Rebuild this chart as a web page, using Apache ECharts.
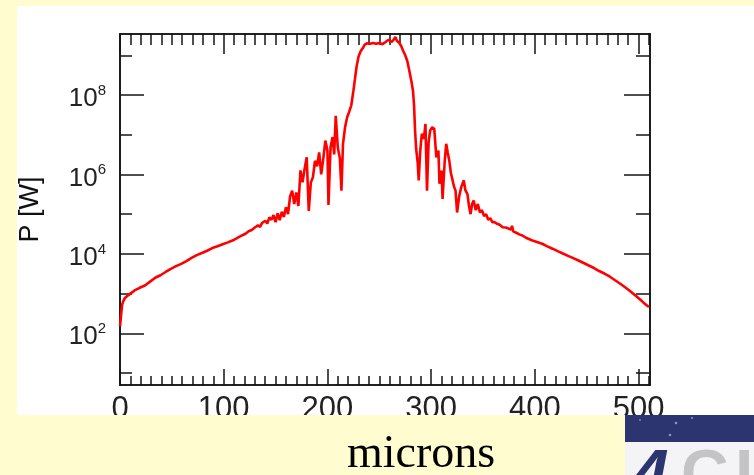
<!DOCTYPE html>
<html>
<head>
<meta charset="utf-8">
<title>P [W] vs microns</title>
<script src="https://cdn.jsdelivr.net/npm/echarts@6/dist/echarts.min.js"></script>
<style>
  html, body { margin: 0; padding: 0; background: #FFFDD0; }
  #chart { width: 754px; height: 475px; }
</style>
</head>
<body>
<div id="chart"></div>
<script>
// position (microns)
const microns = [
  0, 1, 2, 3, 4.5, 7, 10, 14, 19, 24, 29, 34, 39, 44, 49, 54, 59, 64, 69, 74,
  79, 84, 89, 94, 99, 104, 109, 114, 118, 121, 124, 127, 130, 133, 135, 137, 140, 142, 144, 146,
  148, 150, 152, 154, 156, 158, 160, 162, 164, 166, 168, 170, 172, 174, 176, 178, 180, 182, 184, 186,
  188, 190, 192, 194, 196, 198, 200, 201, 203, 205, 206.5, 208, 210, 212, 213.5, 215, 217, 219, 221, 223,
  225, 226.5, 228, 230, 232, 234, 236, 238, 241, 244, 247, 250, 253, 256, 259, 262, 264, 265.5, 267, 269,
  271, 273, 275, 277, 279, 281, 282.5, 283.5, 284.5, 285.5, 287, 288, 289.5, 291, 293, 294.5, 296, 297.5, 299, 301,
  303, 305, 307, 308, 310, 311, 313, 314.5, 316, 317.5, 319, 320.5, 322, 323.5, 325, 327, 329, 331.5, 333, 335,
  336.5, 338, 339.5, 341, 343, 345, 347, 349, 351, 353, 355, 357, 359, 361, 363, 366, 369, 372, 375, 377,
  378, 379, 382, 385, 388, 392, 397, 402, 407, 412, 417, 422, 427, 432, 437, 442, 447, 452, 457, 462,
  467, 472, 477, 482, 487, 492, 497, 502, 506, 510
];
// power (W)
const power = [
  1.5e2, 2.8e2, 5.2e2, 6.3e2, 7.6e2, 8.7e2, 1.0e3, 1.2e3, 1.4e3, 1.6e3, 2.0e3, 2.5e3, 2.9e3, 3.5e3, 4.2e3, 4.9e3, 5.6e3, 6.6e3, 7.9e3, 9.3e3,
  1.05e4, 1.2e4, 1.4e4, 1.55e4, 1.75e4, 1.95e4, 2.2e4, 2.6e4, 2.95e4, 3.2e4, 3.7e4, 4.0e4, 4.6e4, 5.2e4, 4.8e4, 6.0e4, 6.8e4, 5.8e4, 8.3e4, 7.2e4,
  9.5e4, 6.3e4, 1.05e5, 7.1e4, 1.15e5, 8.5e4, 1.5e5, 1.0e5, 2.8e5, 3.9e5, 1.8e5, 3.5e5, 1.6e5, 1.26e6, 6.3e5, 1.4e6, 2.7e6, 1.2e5, 6.3e5, 8.5e5,
  2.2e6, 1.6e6, 3.6e6, 1.0e6, 2.5e6, 7.1e6, 4.0e6, 1.7e5, 4.8e6, 8.7e6, 3.2e6, 3.0e7, 4.8e6, 2.5e6, 3.9e5, 5.9e6, 1.55e7, 2.75e7, 3.8e7, 5.5e7,
  1.26e8, 2.5e8, 5.0e8, 9.3e8, 1.26e9, 1.5e9, 1.86e9, 2.0e9, 1.95e9, 2.05e9, 1.95e9, 2.05e9, 1.9e9, 2.15e9, 2.45e9, 2.15e9, 2.5e9, 2.9e9, 2.3e9, 2.1e9,
  1.74e9, 1.3e9, 1.0e9, 7.2e8, 4.0e8, 2.2e8, 1.26e8, 5.6e7, 1.26e7, 4.5e6, 2.0e6, 7.1e5, 4.0e6, 1.05e7, 7.9e6, 1.86e7, 3.9e5, 6.3e6, 1.26e7, 1.55e7,
  1.4e7, 2.7e6, 4.0e6, 5.8e5, 1.26e6, 2.4e5, 2.0e6, 5.9e6, 3.5e6, 2.2e6, 1.1e6, 1.0e6, 5.0e5, 3.9e5, 1.1e5, 2.8e5, 4.8e5, 7.1e5, 4.0e5, 3.2e5,
  1.6e5, 1.0e5, 1.8e5, 2.2e5, 1.26e5, 1.8e5, 1.1e5, 1.26e5, 8.9e4, 1.0e5, 7.2e4, 7.9e4, 6.3e4, 6.3e4, 5.8e4, 5.4e4, 4.7e4, 4.6e4, 4.3e4, 4.1e4,
  5.1e4, 3.7e4, 3.4e4, 3.1e4, 2.9e4, 2.5e4, 2.2e4, 2.0e4, 1.8e4, 1.55e4, 1.35e4, 1.17e4, 1.02e4, 8.9e3, 7.8e3, 6.8e3, 5.9e3, 5.1e3, 4.4e3, 3.7e3,
  3.2e3, 2.7e3, 2.2e3, 1.8e3, 1.45e3, 1.15e3, 8.9e2, 6.9e2, 5.5e2, 4.6e2
];

// tick labels / tick positions
const xMajor = [0, 100, 200, 300, 400, 500];
const xMinor = [
  10, 20, 30, 40, 50, 60, 70, 80, 90, 110, 120, 130, 140, 150, 160, 170, 180, 190,
  210, 220, 230, 240, 250, 260, 270, 280, 290, 310, 320, 330, 340, 350, 360, 370, 380, 390,
  410, 420, 430, 440, 450, 460, 470, 480, 490, 510
];
const yMajor = [1e2, 1e4, 1e6, 1e8];
const yMinor = [1e1, 1e3, 1e5, 1e7, 1e9];

const X_MIN = 0, X_MAX = 511;
const Y_MIN = 5.0, Y_MAX = 3.43e9;
const AXIS_COLOR = '#151515';
const FONT = '"Liberation Sans", Arial, Helvetica, sans-serif';

const chart = echarts.init(document.getElementById('chart'));

function xAxisDef(position, ticks, len, labels) {
  return {
    type: 'value', position: position, min: X_MIN, max: X_MAX,
    axisLine: { show: true, onZero: false, lineStyle: { color: AXIS_COLOR, width: 1.6 } },
    axisTick: { show: true, inside: true, length: len, customValues: ticks, lineStyle: { color: AXIS_COLOR, width: 1.5 } },
    axisLabel: labels ? {
      show: true, customValues: ticks, margin: 9, fontSize: 31, fontFamily: FONT, color: '#222'
    } : { show: false },
    splitLine: { show: false }
  };
}

function yAxisDef(position, ticks, len, labels) {
  const ax = {
    type: 'log', position: position, min: Y_MIN, max: Y_MAX,
    axisLine: { show: true, onZero: false, lineStyle: { color: AXIS_COLOR, width: 1.6 } },
    axisTick: { show: true, inside: true, length: len, customValues: ticks, lineStyle: { color: AXIS_COLOR, width: 1.5 } },
    axisLabel: { show: false },
    splitLine: { show: false }
  };
  if (labels) {
    ax.axisLabel = {
      show: true, customValues: ticks, margin: 14, padding: [8, 0, 0, 0],
      formatter: function (v) {
        return '{b|10}{s|' + Math.round(Math.log10(v)) + '}';
      },
      rich: {
        b: { fontSize: 26, lineHeight: 32, fontFamily: FONT, color: '#222' },
        s: { fontSize: 15, verticalAlign: 'top', fontFamily: FONT, color: '#222' }
      }
    };
    ax.name = 'P [W]';
    ax.nameLocation = 'middle';
    ax.nameGap = 76;
    ax.nameTextStyle = { fontSize: 27, fontFamily: FONT, color: '#111' };
  }
  return ax;
}

const option = {
  backgroundColor: '#FFFDD0',
  animation: false,
  grid: { left: 120, right: 104, top: 34, bottom: 90 },
  xAxis: [
    xAxisDef('bottom', xMajor, 16, true),
    xAxisDef('bottom', xMinor, 9, false),
    xAxisDef('top', xMajor, 20, false),
    xAxisDef('top', xMinor, 11, false)
  ],
  yAxis: [
    yAxisDef('left', yMajor, 24, true),
    yAxisDef('left', yMinor, 12, false),
    yAxisDef('right', yMajor, 26, false),
    yAxisDef('right', yMinor, 14, false)
  ],
  graphic: [
    // white slide panel behind the plot
    { type: 'rect', z: -100, shape: { x: 17, y: 6, width: 737, height: 409 }, style: { fill: '#FFFFFF' } },
    // yellow band at the bottom that hides part of the tick labels
    { type: 'rect', z: 100, shape: { x: 0, y: 415, width: 625, height: 60 }, style: { fill: '#FFFDD0' } },
    { type: 'text', z: 101, style: { text: 'microns', x: 347, y: 455, font: '46px "Liberation Serif", "Times New Roman", serif', fill: '#000', verticalAlign: 'middle', align: 'left' } },
    // logo corner
    { type: 'rect', z: 100, shape: { x: 625, y: 415, width: 129, height: 27 }, style: { fill: '#2D3570' } },
    { type: 'rect', z: 100, shape: { x: 625, y: 442, width: 129, height: 33 }, style: { fill: '#F4F4F6' } },
    { type: 'circle', z: 101, shape: { cx: 676, cy: 423, r: 1.3 }, style: { fill: '#8C93C0' } },
    { type: 'circle', z: 101, shape: { cx: 692, cy: 418, r: 1.1 }, style: { fill: '#8C93C0' } },
    { type: 'circle', z: 101, shape: { cx: 670, cy: 435, r: 1.3 }, style: { fill: '#8C93C0' } },
    { type: 'circle', z: 101, shape: { cx: 640, cy: 420, r: 0.9 }, style: { fill: '#8C93C0' } },
    { type: 'text', z: 101, style: { text: '4', x: 632, y: 445, font: 'italic bold 66px "Liberation Sans", Arial, sans-serif', fill: '#2D3570', verticalAlign: 'top' } },
    { type: 'text', z: 101, style: { text: 'C', x: 681, y: 445, font: 'bold 66px "Liberation Sans", Arial, sans-serif', fill: '#C4C4C6', verticalAlign: 'top' } },
    { type: 'text', z: 101, style: { text: 'I', x: 735, y: 445, font: 'bold 66px "Liberation Sans", Arial, sans-serif', fill: '#C4C4C6', verticalAlign: 'top' } }
  ],
  series: [
    {
      type: 'line',
      xAxisIndex: 0,
      yAxisIndex: 0,
      data: microns.map(function (x, i) { return [x, power[i]]; }),
      showSymbol: false,
      symbol: 'none',
      lineStyle: { color: '#FF0000', width: 2.6 },
      clip: true
    }
  ]
};

chart.setOption(option);
window.addEventListener('resize', function () { chart.resize(); });
</script>
</body>
</html>
